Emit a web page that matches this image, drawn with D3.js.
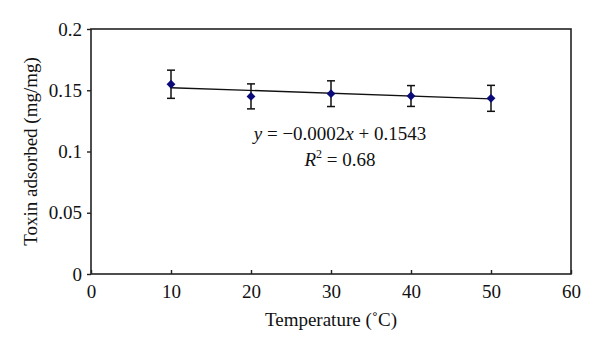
<!DOCTYPE html>
<html><head><meta charset="utf-8">
<script src="https://cdn.jsdelivr.net/npm/d3@7"></script>
<style>body{margin:0;background:#fff}svg{display:block}text{font-family:"Liberation Serif","Times New Roman",serif;fill:#111}</style>
</head><body>
<script>
const temps = [10, 20, 30, 40, 50];
const adsorbed = [0.1549, 0.1450, 0.1472, 0.1453, 0.1434];
const errors = [0.0115, 0.0102, 0.0105, 0.0085, 0.0106];
const trendX = [10, 50];
const trendY = [0.1521, 0.1430];
const xTicks = [0, 10, 20, 30, 40, 50, 60];
const yTicks = [0, 0.05, 0.1, 0.15, 0.2];
const yTickLabels = ["0", "0.05", "0.1", "0.15", "0.2"];

const W = 600, H = 351;
const m = {l: 91, r: 29, t: 29, b: 77};
const FS = 19;
const svg = d3.select("body").append("svg").attr("width", W).attr("height", H);
const x = d3.scaleLinear().domain([0, 60]).range([m.l, W - m.r]);
const y = d3.scaleLinear().domain([0, 0.2]).range([H - m.b, m.t]);

// frame
svg.append("rect").attr("x", x(0)).attr("y", y(0.2)).attr("width", x(60) - x(0)).attr("height", y(0) - y(0.2))
  .attr("fill", "none").attr("stroke", "#222").attr("stroke-width", 1.6);

const xa = svg.append("g").attr("transform", `translate(0,${y(0)})`)
  .call(d3.axisBottom(x).tickValues(xTicks).tickSize(-4).tickPadding(11).tickFormat(d3.format("d")));
xa.select(".domain").remove();
xa.selectAll("line").attr("stroke", "#222").attr("stroke-width", 1.4);
xa.selectAll("text").attr("font-size", FS).attr("fill", "#111");

const ya = svg.append("g").attr("transform", `translate(${x(0)},0)`)
  .call(d3.axisLeft(y).tickValues(yTicks).tickSize(4).tickPadding(5).tickFormat((d, i) => yTickLabels[i]));
ya.select(".domain").remove();
ya.selectAll("line").attr("stroke", "#222").attr("stroke-width", 1.4);
ya.selectAll("text").attr("font-size", FS).attr("fill", "#111");

// trend line
svg.append("line").attr("x1", x(trendX[0])).attr("y1", y(trendY[0])).attr("x2", x(trendX[1])).attr("y2", y(trendY[1]))
  .attr("stroke", "#111").attr("stroke-width", 1.4);

// error bars
const eb = svg.append("g").attr("stroke", "#111").attr("stroke-width", 1.5);
temps.forEach((t, i) => {
  const cx = x(t), top = y(adsorbed[i] + errors[i]), bot = y(adsorbed[i] - errors[i]);
  eb.append("line").attr("x1", cx).attr("x2", cx).attr("y1", top).attr("y2", bot);
  eb.append("line").attr("x1", cx - 4).attr("x2", cx + 4).attr("y1", top).attr("y2", top);
  eb.append("line").attr("x1", cx - 4).attr("x2", cx + 4).attr("y1", bot).attr("y2", bot);
});

// markers
svg.append("g").selectAll("path").data(temps).join("path")
  .attr("d", d3.symbol(d3.symbolDiamond2, 50))
  .attr("transform", (d, i) => `translate(${x(d)},${y(adsorbed[i])})`)
  .attr("fill", "#0a0a78");

// equation
const eq = svg.append("text").attr("x", 340).attr("y", 140).attr("text-anchor", "middle").attr("font-size", FS);
eq.append("tspan").attr("font-style", "italic").text("y");
eq.append("tspan").text(" = −0.0002");
eq.append("tspan").attr("font-style", "italic").text("x");
eq.append("tspan").text(" + 0.1543");
const r2 = svg.append("text").attr("x", 340).attr("y", 166).attr("text-anchor", "middle").attr("font-size", FS);
r2.append("tspan").attr("font-style", "italic").text("R");
r2.append("tspan").attr("font-size", 12).attr("dy", -8).text("2");
r2.append("tspan").attr("dy", 8).text(" = 0.68");

// axis titles
svg.append("text").attr("x", 331).attr("y", 326).attr("text-anchor", "middle").attr("font-size", FS)
  .text("Temperature (˚C)");
svg.append("text").attr("transform", `translate(37,${(55 + 248) / 2}) rotate(-90)`).attr("text-anchor", "middle")
  .attr("font-size", FS).text("Toxin adsorbed (mg/mg)");
</script>
</body></html>
